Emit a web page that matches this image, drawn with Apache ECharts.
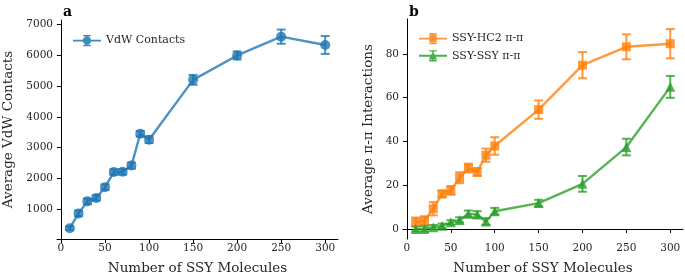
<!DOCTYPE html>
<html>
<head>
<meta charset="utf-8">
<script src="https://cdn.jsdelivr.net/npm/echarts@6/dist/echarts.min.js"></script>
<style>
  html, body { margin: 0; padding: 0; background: #fff; }
  #chart { width: 685px; height: 275px; }
</style>
</head>
<body>
<div id="chart"></div>
<script>
const molecules = [10, 20, 30, 40, 50, 60, 70, 80, 90, 100, 150, 200, 250, 300];
const vdwMean = [390, 870, 1260, 1370, 1720, 2210, 2220, 2420, 3450, 3260, 5200, 5990, 6600, 6330];
const vdwErr = [60, 90, 90, 90, 90, 90, 90, 100, 90, 110, 160, 130, 230, 290];
const hc2Mean = [3.2, 3.8, 9.2, 16, 17.6, 23.4, 27.8, 26, 33.7, 37.9, 54.5, 74.8, 83.2, 84.6];
const hc2Err = [2, 2, 3, 1.5, 2, 2.5, 2, 1.8, 3, 4, 4.2, 6, 5.7, 6.7];
const ssyMean = [0, 0, 0.8, 1.4, 3, 4.1, 6.9, 6.6, 3.4, 8.1, 11.8, 20.6, 37.4, 64.9];
const ssyErr = [1.2, 1.2, 1, 1, 1, 1.2, 1.5, 1.5, 1.5, 1.5, 1.5, 3.6, 3.8, 5];
const xTicks = [0, 50, 100, 150, 200, 250, 300];
const vdwTicks = [1000, 2000, 3000, 4000, 5000, 6000, 7000];
const piTicks = [0, 20, 40, 60, 80];

const BLUE = "#1f77b4", ORANGE = "#ff7f0e", GREEN = "#2ca02c";
const FONT = "DejaVu Serif";

const chart = echarts.init(document.getElementById("chart"));

const pair = (means, errs) => molecules.map((x, i) => [x, means[i], errs[i]]);

// error bars drawn with the axis scales
function errSeries(name, idx, color, data) {
  return {
    type: "custom",
    name: name,
    xAxisIndex: idx,
    yAxisIndex: idx,
    z: 2,
    silent: true,
    encode: { x: 0, y: 1 },
    data: data,
    renderItem: (params, api) => {
      const x = api.value(0), y = api.value(1), e = api.value(2);
      const lo = api.coord([x, y - e]);
      const hi = api.coord([x, y + e]);
      const st = { stroke: color, lineWidth: 2, opacity: 0.8 };
      return {
        type: "group",
        children: [
          { type: "line", shape: { x1: lo[0], y1: lo[1], x2: hi[0], y2: hi[1] }, style: st },
          { type: "line", shape: { x1: lo[0] - 4.5, y1: lo[1], x2: lo[0] + 4.5, y2: lo[1] }, style: st },
          { type: "line", shape: { x1: hi[0] - 4.5, y1: hi[1], x2: hi[0] + 4.5, y2: hi[1] }, style: st }
        ]
      };
    }
  };
}

function lineSeries(name, idx, color, symbol, size, data) {
  return {
    type: "line",
    name: name,
    xAxisIndex: idx,
    yAxisIndex: idx,
    z: 3,
    data: data.map(d => [d[0], d[1]]),
    symbol: symbol,
    symbolSize: size,
    showAllSymbol: true,
    lineStyle: { color: color, width: 2.4, opacity: 0.8 },
    itemStyle: { color: color, opacity: 0.8 },
    emphasis: { disabled: true }
  };
}

// legend handles: line + error bar + marker
const barPath = "M0 5H30V7H0ZM14.2 0H15.8V12H14.2ZM11 0H19V1.5H11ZM11 10.5H19V12H11Z";
const iconCircle = "path://" + barPath + "M10.5 6A4.5 4.5 0 1 1 19.5 6A4.5 4.5 0 1 1 10.5 6Z";
const iconSquare = "path://" + barPath + "M11 2H19V10H11Z";
const iconTri = "path://" + barPath + "M15 1.5L19.5 10H10.5Z";

const axisCommon = {
  axisLine: { show: true, lineStyle: { color: "#000", width: 1 } },
  axisTick: { show: true, length: 4, lineStyle: { color: "#000", width: 1 } },
  splitLine: { show: false },
  axisLabel: { color: "#262626", fontFamily: FONT, fontSize: 10.5, margin: 4, formatter: v => String(v) },
  nameTextStyle: { color: "#262626", fontFamily: FONT, fontSize: 13.5 }
};

function xAxis(idx) {
  return {
    type: "value",
    gridIndex: idx,
    min: -4.5,
    max: 314.5,
    name: "Number of SSY Molecules",
    nameLocation: "middle",
    nameGap: 22,
    ...axisCommon,
    axisTick: { ...axisCommon.axisTick, customValues: xTicks },
    axisLabel: { ...axisCommon.axisLabel, customValues: xTicks }
  };
}

chart.setOption({
  backgroundColor: "#fff",
  animation: false,
  title: [
    { text: "a", left: 58, top: 0, textStyle: { fontFamily: FONT, fontSize: 14, fontWeight: "bold", color: "#000" } },
    { text: "b", left: 404, top: 0, textStyle: { fontFamily: FONT, fontSize: 14, fontWeight: "bold", color: "#000" } }
  ],
  legend: [
    {
      left: 68, top: 30, orient: "vertical", itemWidth: 28, itemHeight: 12,
      textStyle: { fontFamily: FONT, fontSize: 11, color: "#262626" },
      data: [{ name: "VdW Contacts", icon: iconCircle, itemStyle: { color: BLUE, opacity: 0.85 } }]
    },
    {
      left: 414, top: 28, orient: "vertical", itemGap: 6, itemWidth: 28, itemHeight: 12,
      textStyle: { fontFamily: FONT, fontSize: 11, color: "#262626" },
      data: [
        { name: "SSY-HC2 π-π", icon: iconSquare, itemStyle: { color: ORANGE, opacity: 0.85 } },
        { name: "SSY-SSY π-π", icon: iconTri, itemStyle: { color: GREEN, opacity: 0.85 } }
      ]
    }
  ],
  grid: [
    { left: 57, top: 20, width: 281, height: 219, outerBoundsMode: "none" },
    { left: 403, top: 19, width: 280, height: 220, outerBoundsMode: "none" }
  ],
  xAxis: [xAxis(0), xAxis(1)],
  yAxis: [
    {
      type: "value", gridIndex: 0, min: 40, max: 7140,
      name: "Average VdW Contacts", nameLocation: "middle", nameGap: 42,
      ...axisCommon,
      axisTick: { ...axisCommon.axisTick, customValues: vdwTicks },
      axisLabel: { ...axisCommon.axisLabel, customValues: vdwTicks }
    },
    {
      type: "value", gridIndex: 1, min: -4.6, max: 95.9,
      name: "Average π-π Interactions", nameLocation: "middle", nameGap: 28,
      ...axisCommon,
      axisTick: { ...axisCommon.axisTick, customValues: piTicks },
      axisLabel: { ...axisCommon.axisLabel, customValues: piTicks }
    }
  ],
  series: [
    errSeries("vdwErr", 0, BLUE, pair(vdwMean, vdwErr)),
    lineSeries("VdW Contacts", 0, BLUE, "circle", 10, pair(vdwMean, vdwErr)),
    errSeries("hc2Err", 1, ORANGE, pair(hc2Mean, hc2Err)),
    lineSeries("SSY-HC2 π-π", 1, ORANGE, "rect", 9, pair(hc2Mean, hc2Err)),
    errSeries("ssyErr", 1, GREEN, pair(ssyMean, ssyErr)),
    lineSeries("SSY-SSY π-π", 1, GREEN, "triangle", 10, pair(ssyMean, ssyErr))
  ]
});
</script>
</body>
</html>
